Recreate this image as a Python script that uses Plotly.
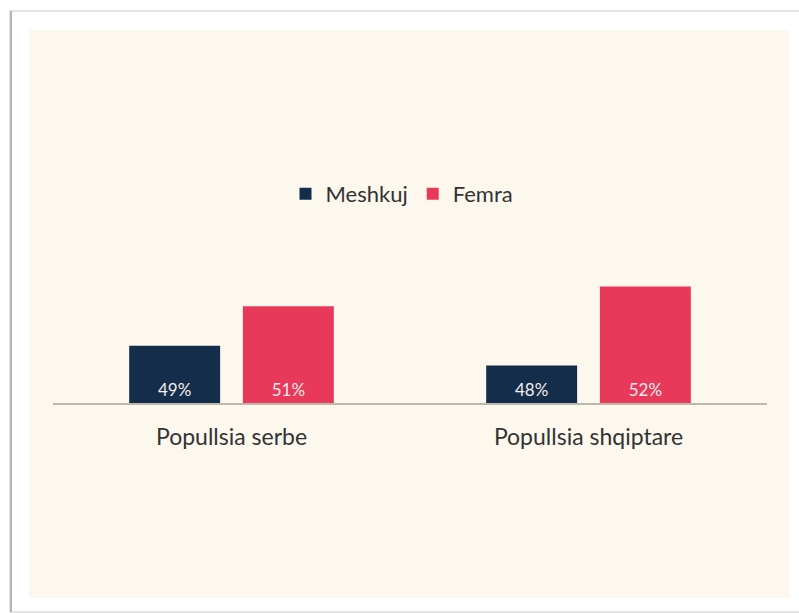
import plotly.graph_objects as go

categories = ["Popullsia serbe", "Popullsia shqiptare"]
meshkuj = [49, 48]
femra = [51, 52]
series_names = ["Meshkuj", "Femra"]
axis_base = 46.1

W, H = 799, 613
L, R, T, B = 53, 32, 220, 210
pw, ph = W - L - R, H - T - B

def px_x(x):
    return (x - L) / pw

def px_y(y):
    return (H - B - y) / ph

navy = "#142d4b"
red = "#e8395a"
cream = "#fdf8ee"

fig = go.Figure()
for name, vals, col in [(series_names[0], meshkuj, navy), (series_names[1], femra, red)]:
    fig.add_trace(go.Bar(
        x=categories, y=[v - axis_base for v in vals], base=[axis_base] * len(vals),
        name=name, marker=dict(color=col, line=dict(width=0)),
        text=[f"{v}%" for v in vals], textposition="inside", insidetextanchor="start",
        textfont=dict(color="#f2ecec", size=17, family="Lato"),
        hovertext=[f"{v}%" for v in vals], hoverinfo="text+name",
    ))

shapes = [
    dict(type="rect", xref="paper", yref="paper", x0=px_x(10), x1=px_x(800), y0=px_y(612), y1=px_y(11),
         line=dict(color="#dcdcdc", width=1.5), fillcolor="white", layer="below"),
    dict(type="line", xref="paper", yref="paper", x0=px_x(11), x1=px_x(11), y0=px_y(612), y1=px_y(11),
         line=dict(color="#b5b5b5", width=2), layer="below"),
    dict(type="rect", xref="paper", yref="paper", x0=px_x(29), x1=px_x(790), y0=px_y(598), y1=px_y(30),
         line=dict(width=0), fillcolor=cream, layer="below"),
]

fig.update_layout(
    width=W, height=H,
    margin=dict(l=L, r=R, t=T, b=B, autoexpand=False),
    paper_bgcolor="white", plot_bgcolor="rgba(0,0,0,0)",
    barmode="group", bargap=0.363, bargroupgap=0.2,
    font=dict(family="Lato", color="#333333"),
    showlegend=True,
    legend=dict(orientation="h", x=px_x(402), y=px_y(194), xanchor="center", yanchor="middle",
                font=dict(size=22, color="#333333"), bgcolor="rgba(0,0,0,0)", itemwidth=30,
                traceorder="normal"),
    xaxis=dict(showline=True, linecolor="#bdb8aa", linewidth=2, showgrid=False, zeroline=False,
               ticks="", tickfont=dict(size=23, color="#333333"), ticklabelstandoff=12),
    yaxis=dict(range=[axis_base, axis_base + ph / 19.75], visible=False, showgrid=False, zeroline=False),
    shapes=shapes,
)

fig.write_html("out.html", config={"displayModeBar": False},
               post_script="document.body.style.margin='0';document.body.style.overflow='hidden';")
